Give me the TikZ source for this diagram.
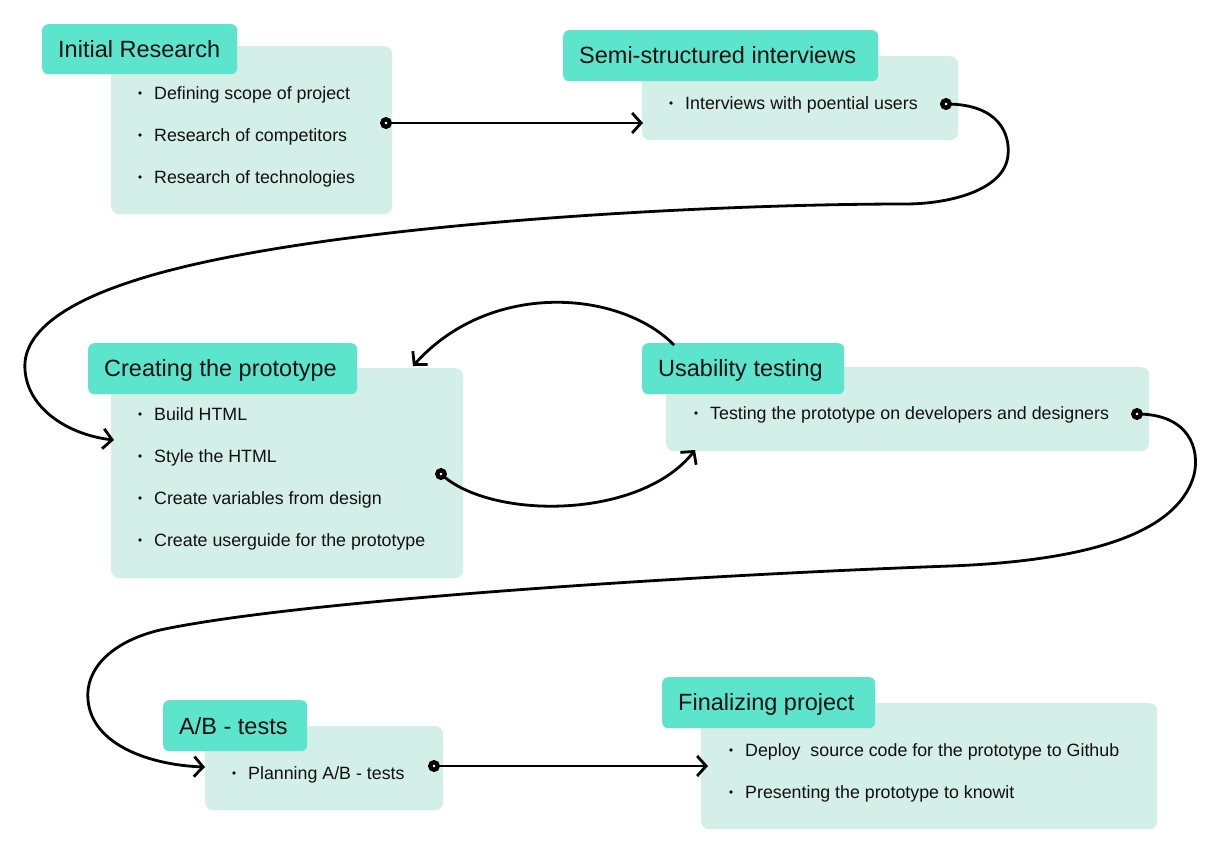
\documentclass[tikz,border=0pt]{standalone}
\usepackage{fontspec}
\setmainfont{Liberation Sans}
\usetikzlibrary{arrows.meta}
\definecolor{titlec}{RGB}{92,229,204}
\definecolor{bodyc}{RGB}{212,238,232}
\definecolor{inkc}{RGB}{17,17,17}
\tikzset{
 bodybox/.style={fill=bodyc, rounded corners=8pt, inner sep=0pt, anchor=north west},
 titlebox/.style={fill=titlec, rounded corners=6pt, inner sep=0pt, anchor=north west},
 titletext/.style={anchor=base west, inner sep=0pt, font=\fontsize{23.5}{28}\selectfont, text=inkc},
 itemtext/.style={anchor=base west, inner sep=0pt, font=\fontsize{17.8}{21}\selectfont, text=inkc},
 flow/.style={draw=black, line width=2.8pt, -{Straight Barb[length=9pt,width=20pt]}},
 startdot/.style={circle, draw=black, fill=white, line width=4.3pt, minimum size=7.5pt, inner sep=0pt},
}
\newcommand\mkitem[4]{\node[itemtext] (#1) at (#2,#3) {#4}; \fill[inkc] (#2-14,#3-6) circle (1.8);}
\begin{document}
\begin{tikzpicture}[x=1pt,y=-1pt]
\path[use as bounding box] (0,0) rectangle (1226,852);
\fill[white] (0,0) rectangle (1226,852);
% stage 1
\node[bodybox, minimum width=281pt, minimum height=168pt] (b1) at (111,46) {};
\node[titlebox, minimum width=195pt, minimum height=50pt] (t1) at (42,24) {};
\node[titletext] (tt1) at (58,57) {Initial Research};
\mkitem{i11}{154}{99}{Defining scope of project}
\mkitem{i12}{154}{141}{Research of competitors}
\mkitem{i13}{154}{183}{Research of technologies}
% stage 2
\node[bodybox, minimum width=316pt, minimum height=84pt] (b2) at (642,56) {};
\node[titlebox, minimum width=315pt, minimum height=51pt] (t2) at (563,30) {};
\node[titletext] (tt2) at (579,63) {Semi-structured interviews};
\mkitem{i21}{685}{109}{Interviews with poential users}
% stage 3
\node[bodybox, minimum width=352pt, minimum height=210pt] (b3) at (111,368) {};
\node[titlebox, minimum width=269pt, minimum height=51pt] (t3) at (88,343) {};
\node[titletext] (tt3) at (104,376) {Creating the prototype};
\mkitem{i31}{154}{420}{Build HTML}
\mkitem{i32}{154}{462}{Style the HTML}
\mkitem{i33}{154}{504}{Create variables from design}
\mkitem{i34}{154}{546}{Create userguide for the prototype}
% stage 4
\node[bodybox, minimum width=483pt, minimum height=84pt] (b4) at (666,367) {};
\node[titlebox, minimum width=202pt, minimum height=51pt] (t4) at (642,343) {};
\node[titletext] (tt4) at (658,376) {Usability testing};
\mkitem{i41}{710}{419}{Testing the prototype on developers and designers}
% stage 5
\node[bodybox, minimum width=238pt, minimum height=84pt] (b5) at (205,726) {};
\node[titlebox, minimum width=144pt, minimum height=51pt] (t5) at (163,700) {};
\node[titletext] (tt5) at (179,734) {A/B - tests};
\mkitem{i51}{248}{779}{Planning A/B - tests}
% stage 6
\node[bodybox, minimum width=456pt, minimum height=126pt] (b6) at (701,703) {};
\node[titlebox, minimum width=213pt, minimum height=51pt] (t6) at (662,677) {};
\node[titletext] (tt6) at (678,710) {Finalizing project};
\mkitem{i61}{745}{756}{Deploy\ \ source code for the prototype to Github}
\mkitem{i62}{745}{798}{Presenting the prototype to knowit}
% connector end points
\coordinate (s1) at (386,123);
\coordinate (e1) at (643,123);
\coordinate (s2) at (946,104);
\coordinate (e2) at (114,440);
\coordinate (s3) at (441,474);
\coordinate (e3) at (695,450);
\coordinate (s4) at (674,345);
\coordinate (e4) at (413,366);
\coordinate (s5) at (1137,414);
\coordinate (e5) at (205,767);
\coordinate (s6) at (434,766);
\coordinate (e6) at (708,766);
% connectors
\draw[flow] (s1) -- (e1);
\draw[flow] (s2) .. controls (1000,104) and (1010,135) .. (1008,155)
  .. controls (1005,190) and (950,204) .. (905,204)
  .. controls (700,204) and (300,225) .. (130,282)
  .. controls (60,305) and (22,335) .. (25,370)
  .. controls (28,410) and (70,435) .. (e2);
\draw[flow] (s3) .. controls (490,520) and (640,520) .. (e3);
\draw[flow] (s4) .. controls (620,290) and (490,280) .. (e4);
\draw[flow] (s5) .. controls (1190,414) and (1200,450) .. (1194,475)
  .. controls (1180,525) and (1110,560) .. (950,566)
  .. controls (700,575) and (300,600) .. (160,630)
  .. controls (110,642) and (85,670) .. (88,700)
  .. controls (92,745) and (150,765) .. (e5);
\draw[flow] (s6) -- (e6);
% start dots
\node[startdot] (d1) at (s1) {};
\node[startdot] (d2) at (s2) {};
\node[startdot] (d3) at (s3) {};
\node[startdot] (d5) at (s5) {};
\node[startdot] (d6) at (s6) {};
\end{tikzpicture}
\end{document}
